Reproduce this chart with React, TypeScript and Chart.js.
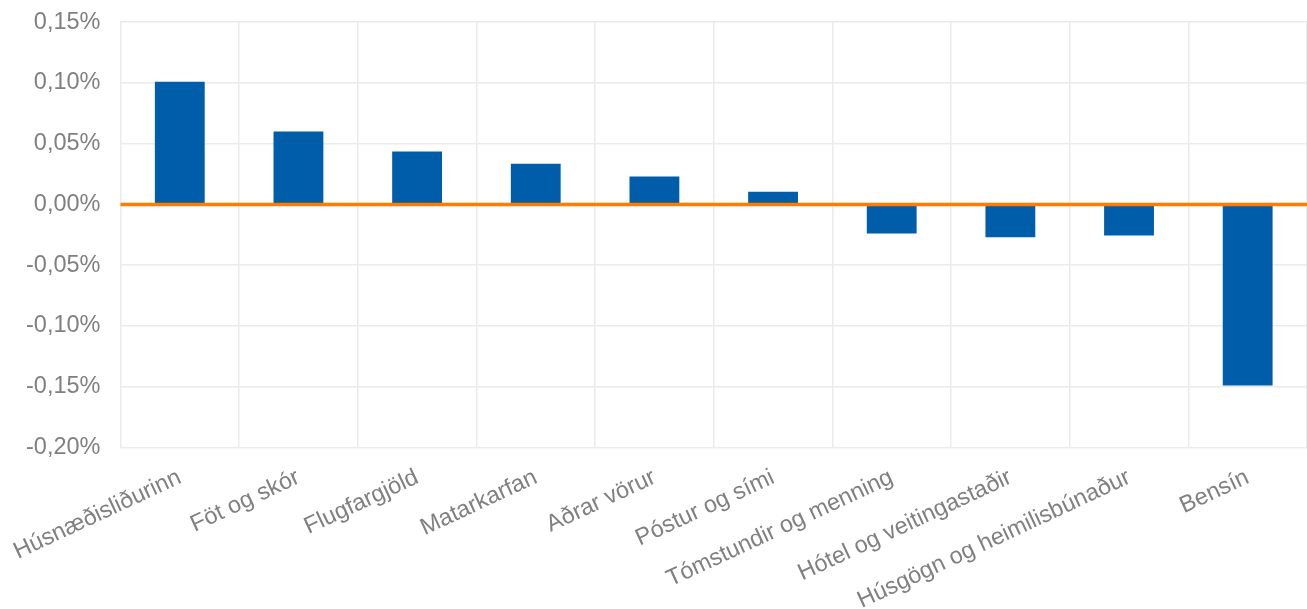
import React, { useEffect, useRef } from "react";
import { Chart, registerables } from "chart.js";

Chart.register(...registerables);

const categories = [
  "Húsnæðisliðurinn",
  "Föt og skór",
  "Flugfargjöld",
  "Matarkarfan",
  "Aðrar vörur",
  "Póstur og sími",
  "Tómstundir og menning",
  "Hótel og veitingastaðir",
  "Húsgögn og heimilisbúnaður",
  "Bensín",
];

const values = [0.101, 0.06, 0.0435, 0.0335, 0.023, 0.0105, -0.024, -0.027, -0.0255, -0.149];

const yMin = -0.2;
const yMax = 0.15;
const yStep = 0.05;

const BAR_COLOR = "#005DAA";
const ZERO_COLOR = "#FF7C00";
const GRID_COLOR = "#EBEBEB";
const TEXT_COLOR = "#808080";

const zeroLinePlugin = {
  id: "zeroLine",
  afterDatasetsDraw(chart: any) {
    const { ctx, chartArea, scales } = chart;
    const y = scales.y.getPixelForValue(0);
    ctx.save();
    ctx.strokeStyle = ZERO_COLOR;
    ctx.lineWidth = 3.5;
    ctx.beginPath();
    ctx.moveTo(chartArea.left, y);
    ctx.lineTo(chartArea.right, y);
    ctx.stroke();
    ctx.restore();
  },
};

export default function App() {
  const canvasRef = useRef<HTMLCanvasElement | null>(null);

  useEffect(() => {
    const canvas = canvasRef.current;
    if (!canvas) return;
    const chart = new Chart(canvas, {
      type: "bar",
      data: {
        labels: categories,
        datasets: [
          {
            data: values,
            backgroundColor: BAR_COLOR,
            barPercentage: 0.42,
            categoryPercentage: 1,
          },
        ],
      },
      options: {
        animation: false,
        responsive: true,
        maintainAspectRatio: false,
        layout: { padding: { left: 18, top: 0, right: 0, bottom: 0 } },
        plugins: {
          legend: { display: false },
          tooltip: { enabled: false },
        },
        scales: {
          x: {
            offset: true,
            afterFit: (scale: any) => {
              scale.paddingLeft = 0;
              scale.paddingRight = 0;
            },
            grid: {
              offset: true,
              color: GRID_COLOR,
              lineWidth: 1.5,
              drawTicks: false,
            },
            border: { display: false },
            ticks: {
              autoSkip: false,
              minRotation: 25,
              maxRotation: 25,
              color: TEXT_COLOR,
              padding: 16,
              font: { family: "'Liberation Sans', Arial, sans-serif", size: 23.5 },
            },
          },
          y: {
            min: yMin,
            max: yMax,
            grid: {
              color: GRID_COLOR,
              lineWidth: 1.5,
              drawTicks: true,
              tickLength: 12,
              tickColor: "rgba(0,0,0,0)",
            },
            border: { display: false },
            ticks: {
              stepSize: yStep,
              color: TEXT_COLOR,
              padding: 8,
              font: { family: "'Liberation Sans', Arial, sans-serif", size: 23.5 },
              callback: (v: any) => {
                const n = Math.abs(Number(v)) < 1e-9 ? 0 : Number(v);
                return n.toFixed(2).replace(".", ",") + "%";
              },
            },
          },
        },
      },
      plugins: [zeroLinePlugin],
    });
    return () => chart.destroy();
  }, []);

  return (
    <div style={{ position: "fixed", left: 0, top: 0, width: 1307, height: 609, overflow: "hidden", background: "#fff" }}>
      <div style={{ position: "absolute", left: 0, top: 0, width: 1307, height: 631 }}>
        <canvas ref={canvasRef} />
      </div>
    </div>
  );
}
